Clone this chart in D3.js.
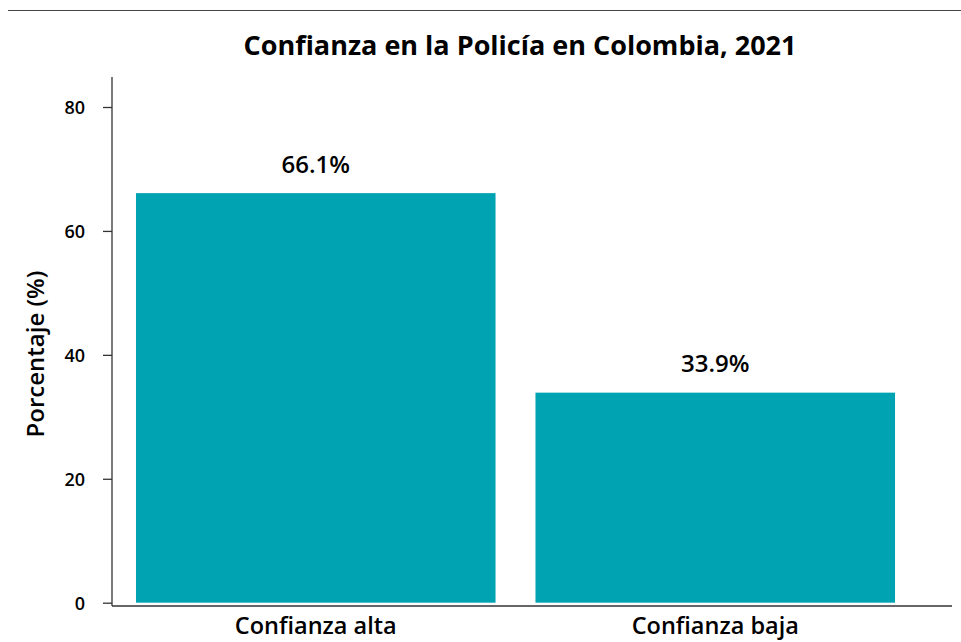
<!DOCTYPE html>
<html>
<head>
<meta charset="utf-8">
<script src="https://cdn.jsdelivr.net/npm/d3@7"></script>
<style>
  body { margin: 0; background: #fff; }
  text { font-family: "Open Sans", "Noto Sans", sans-serif; fill: #000; }
</style>
</head>
<body>
<div id="chart"></div>
<script>
// data
const categories = ['Confianza alta', 'Confianza baja'];
const values = [66.1, 33.9];
const yTicks = [0, 20, 40, 60, 80];

const width = 961, height = 642;

const svg = d3.select('#chart').append('svg')
    .attr('width', width)
    .attr('height', height);

// thin rule at the top
svg.append('line')
    .attr('x1', 8).attr('x2', width)
    .attr('y1', 10.5).attr('y2', 10.5)
    .attr('stroke', '#444')
    .attr('stroke-width', 1.2);

const y = d3.scaleLinear()
    .domain([0, 80])
    .range([602.7, 107]);

const x = d3.scaleBand()
    .domain(categories)
    .range([116, 915])
    .paddingInner(0.1)
    .paddingOuter(0.05);

// bars
svg.selectAll('rect.bar')
    .data(categories)
    .enter().append('rect')
    .attr('class', 'bar')
    .attr('x', d => x(d))
    .attr('width', x.bandwidth())
    .attr('y', (d, i) => y(values[i]))
    .attr('height', (d, i) => y(0) - y(values[i]))
    .attr('fill', '#00A3B1');

// value labels
svg.selectAll('text.value-label')
    .data(categories)
    .enter().append('text')
    .attr('class', 'value-label')
    .attr('x', d => x(d) + x.bandwidth() / 2)
    .attr('y', (d, i) => y(values[i]) - 20.5)
    .attr('text-anchor', 'middle')
    .style('font-size', '24px')
    .style('font-weight', 600)
    .text((d, i) => values[i].toFixed(1) + '%');

// y axis
const yAxis = svg.append('g')
    .attr('transform', 'translate(112,0)')
    .call(d3.axisLeft(y).tickValues(yTicks).tickSize(9).tickPadding(17));
yAxis.select('.domain').remove();
yAxis.selectAll('.tick line').attr('stroke', '#333').attr('stroke-width', 1.3);
yAxis.selectAll('.tick text')
    .attr('x', -27)
    .attr('dy', '0.36em')
    .style('font-size', '18px')
    .style('font-weight', 600)
    .style('font-family', '"Open Sans", "Noto Sans", sans-serif');

// axis lines
svg.append('line')
    .attr('x1', 112).attr('x2', 112)
    .attr('y1', 77).attr('y2', 606)
    .attr('stroke', '#333').attr('stroke-width', 1.3);
svg.append('line')
    .attr('x1', 112).attr('x2', 952)
    .attr('y1', 606).attr('y2', 606)
    .attr('stroke', '#333').attr('stroke-width', 1.3);

// category labels
svg.selectAll('text.category-label')
    .data(categories)
    .enter().append('text')
    .attr('class', 'category-label')
    .attr('x', d => x(d) + x.bandwidth() / 2)
    .attr('y', 634)
    .attr('text-anchor', 'middle')
    .style('font-size', '23.5px')
    .style('font-weight', 600)
    .text(d => d);

// title
svg.append('text')
    .attr('x', 520)
    .attr('y', 55)
    .attr('text-anchor', 'middle')
    .style('font-size', '27px')
    .style('font-weight', 700)
    .text('Confianza en la Policía en Colombia, 2021');

// y axis title
svg.append('text')
    .attr('transform', 'translate(44,354) rotate(-90)')
    .attr('text-anchor', 'middle')
    .style('font-size', '24px')
    .style('font-weight', 600)
    .text('Porcentaje (%)');
</script>
</body>
</html>
